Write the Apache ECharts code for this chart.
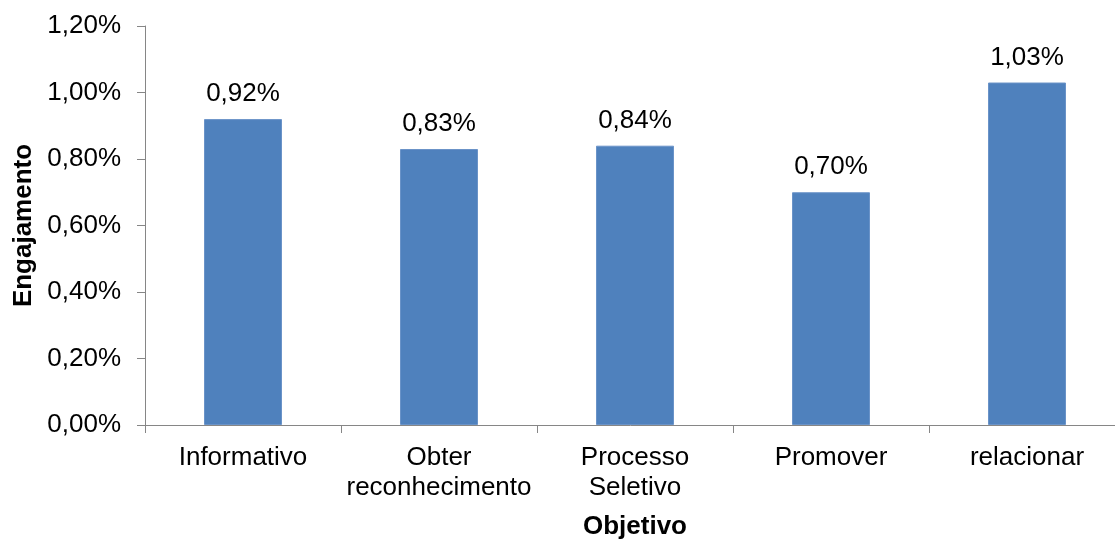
<!DOCTYPE html>
<html>
<head>
<meta charset="utf-8">
<script src="https://cdn.jsdelivr.net/npm/echarts@6/dist/echarts.min.js"></script>
<style>
  html, body { margin: 0; padding: 0; background: #fff; }
  #chart { width: 1115px; height: 539px; }
</style>
</head>
<body>
<div id="chart"></div>
<script>
// Engagement rate (%) by post objective
const categories = ['Informativo', 'Obter\nreconhecimento', 'Processo\nSeletivo', 'Promover', 'relacionar'];
const engagement = [0.92, 0.83, 0.84, 0.70, 1.03];
const yMin = 0, yMax = 1.2, yStep = 0.2;

const FONT = "'Liberation Sans', Arial, sans-serif";
const AXIS_GREY = '#868686';
const fmtPct = v => Number(v).toFixed(2).replace('.', ',') + '%';

const chart = echarts.init(document.getElementById('chart'), null, { renderer: 'canvas' });
chart.setOption({
  animation: false,
  backgroundColor: '#ffffff',
  // plot area runs slightly past the right edge of the canvas
  grid: { left: 145, top: 26, width: 980, height: 399, containLabel: false, outerBoundsMode: 'none' },
  xAxis: {
    type: 'category',
    data: categories,
    boundaryGap: true,
    name: 'Objetivo',
    nameLocation: 'middle',
    nameGap: 89,
    nameTextStyle: { fontFamily: FONT, fontSize: 26, fontWeight: 'bold', color: '#000' },
    axisLine: { show: true, lineStyle: { color: AXIS_GREY, width: 1 } },
    axisTick: { show: true, length: 8, alignWithLabel: false, lineStyle: { color: AXIS_GREY } },
    axisLabel: { interval: 0, margin: 18, fontFamily: FONT, fontSize: 26, color: '#000', lineHeight: 30 },
    splitLine: { show: false }
  },
  yAxis: {
    type: 'value',
    min: yMin,
    max: yMax,
    interval: yStep,
    name: 'Engajamento',
    nameLocation: 'middle',
    nameGap: 107,
    nameRotate: 90,
    nameTextStyle: { fontFamily: FONT, fontSize: 26, fontWeight: 'bold', color: '#000' },
    axisLine: { show: true, lineStyle: { color: AXIS_GREY, width: 1 } },
    axisTick: { show: true, length: 8, lineStyle: { color: AXIS_GREY } },
    axisLabel: { margin: 24, fontFamily: FONT, fontSize: 26, color: '#000', formatter: fmtPct },
    splitLine: { show: false }
  },
  series: [{
    type: 'bar',
    data: engagement,
    barWidth: 78,
    itemStyle: { color: '#4F81BD', borderColor: '#6A93C8', borderWidth: 1 },
    label: {
      show: true,
      position: 'top',
      distance: 12,
      fontFamily: FONT,
      fontSize: 26,
      color: '#000',
      formatter: p => fmtPct(p.value)
    }
  }]
});
</script>
</body>
</html>
